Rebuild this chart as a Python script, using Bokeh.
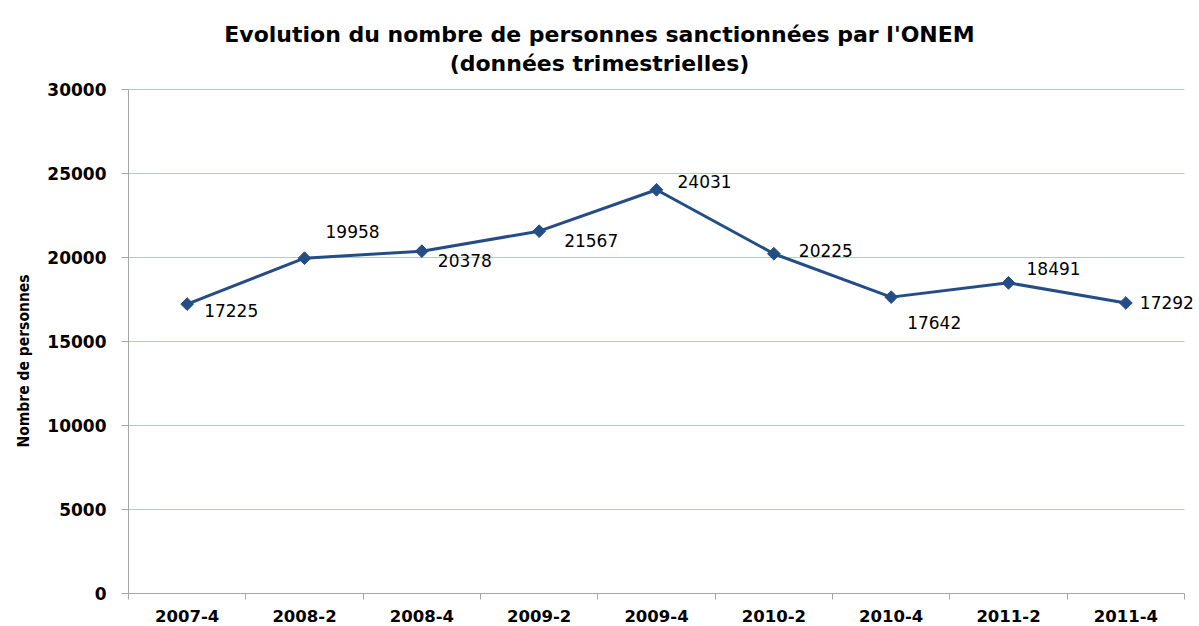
import math
import numpy as np
from bokeh.plotting import figure
from bokeh.models import (ColumnDataSource, LabelSet, Label, Title, Range1d,
                          FixedTicker, CustomJSTickFormatter)
from bokeh.core.properties import value
from bokeh.embed import file_html
from bokeh.resources import INLINE

# ---- data ----
categories = ["2007-4", "2008-2", "2008-4", "2009-2", "2009-4",
              "2010-2", "2010-4", "2011-2", "2011-4"]
values = [17225, 19958, 20378, 21567, 24031, 20225, 17642, 18491, 17292]
y_ticks = [0, 5000, 10000, 15000, 20000, 25000, 30000]
title_line1 = "Evolution du nombre de personnes sanctionnées par l'ONEM"
title_line2 = "(données trimestrielles)"
y_title = "Nombre de personnes"

# label offsets (style, screen px)
lab_dx = [17, 21, 16, 25, 21, 25, 16, 18, 14]
lab_dy = [-13, 20, -16, -16, 2, -3, -32, 8, -6]

LINE = "#244d86"
GRID = "#b4c6e7"
AXIS = "#a6a6a6"
n = len(categories)
y_max = y_ticks[-1]
xs = (np.arange(n) + 0.5).tolist()

src = ColumnDataSource(dict(x=xs, y=values, txt=[str(v) for v in values],
                            dx=lab_dx, dy=lab_dy))

# the frame runs to the right and top page edges so that data labels and the
# title are not clipped; axes and grid stop at the data area
x_end = n * 1072 / 1057
y_end = y_max * 593 / 504
p = figure(width=1199, height=626, output_backend="svg", toolbar_location=None,
           x_range=Range1d(0, x_end), y_range=Range1d(0, y_end),
           min_border_left=127, min_border_right=0, min_border_top=0,
           min_border_bottom=33)
p.outline_line_color = None
p.background_fill_color = "white"

# titles (two centred lines above the data area)
for txt, yv in ((title_line1, 33274), (title_line2, 31548)):
    p.add_layout(Label(x=471, y=yv, x_units="screen", y_units="data", text=txt,
                       text_align="center", text_baseline="alphabetic",
                       text_font="DejaVu Sans", text_font_size="22px",
                       text_font_style="bold", text_color="black"))

p.add_layout(Title(text=y_title, align="left", offset=146, standoff=24,
                   text_font="DejaVu Sans Condensed", text_font_size="15.5px",
                   text_font_style="bold", text_color="black"), "left")

# horizontal gridlines
p.xgrid.visible = False
p.ygrid.visible = False
p.segment(x0=0, x1=n, y0=y_ticks, y1=y_ticks, line_color=GRID, line_width=1,
          level="underlay")

# y axis
p.yaxis.bounds = (0, y_max)
p.yaxis.ticker = FixedTicker(ticks=y_ticks)
p.yaxis.axis_line_color = AXIS
p.yaxis.major_tick_line_color = AXIS
p.yaxis.major_tick_out = 7
p.yaxis.major_tick_in = 0
p.yaxis.minor_tick_line_color = None
p.yaxis.major_label_standoff = 15
p.yaxis.major_label_text_font = "DejaVu Sans"
p.yaxis.major_label_text_font_style = "bold"
p.yaxis.major_label_text_font_size = "17px"
p.yaxis.major_label_text_color = "black"

# x axis: labels at centres, ticks at boundaries
p.xaxis.bounds = (0, n)
p.xaxis.ticker = FixedTicker(ticks=xs, minor_ticks=list(range(n + 1)))
p.xaxis.formatter = CustomJSTickFormatter(args=dict(labels=categories),
                                          code="return labels[Math.floor(tick)];")
p.xaxis.axis_line_color = AXIS
p.xaxis.major_tick_line_color = None
p.xaxis.major_tick_out = 6
p.xaxis.minor_tick_line_color = AXIS
p.xaxis.minor_tick_out = 6
p.xaxis.minor_tick_in = 0
p.xaxis.major_label_standoff = 10
p.xaxis.major_label_text_font = "DejaVu Sans"
p.xaxis.major_label_text_font_style = "bold"
p.xaxis.major_label_text_font_size = "16.5px"
p.xaxis.major_label_text_color = "black"

# series
p.line("x", "y", source=src, line_color=LINE, line_width=3)
p.scatter("x", "y", source=src, marker="square", angle=math.pi / 4, size=9,
          fill_color=LINE, line_color=LINE)

labels = LabelSet(x="x", y="y", text="txt", source=src, x_offset="dx", y_offset="dy",
                  text_font=value("DejaVu Sans"), text_font_size="17px",
                  text_color="black", text_align="left", text_baseline="alphabetic")
p.add_layout(labels)

open("out.html", "w").write(file_html(p, INLINE))
